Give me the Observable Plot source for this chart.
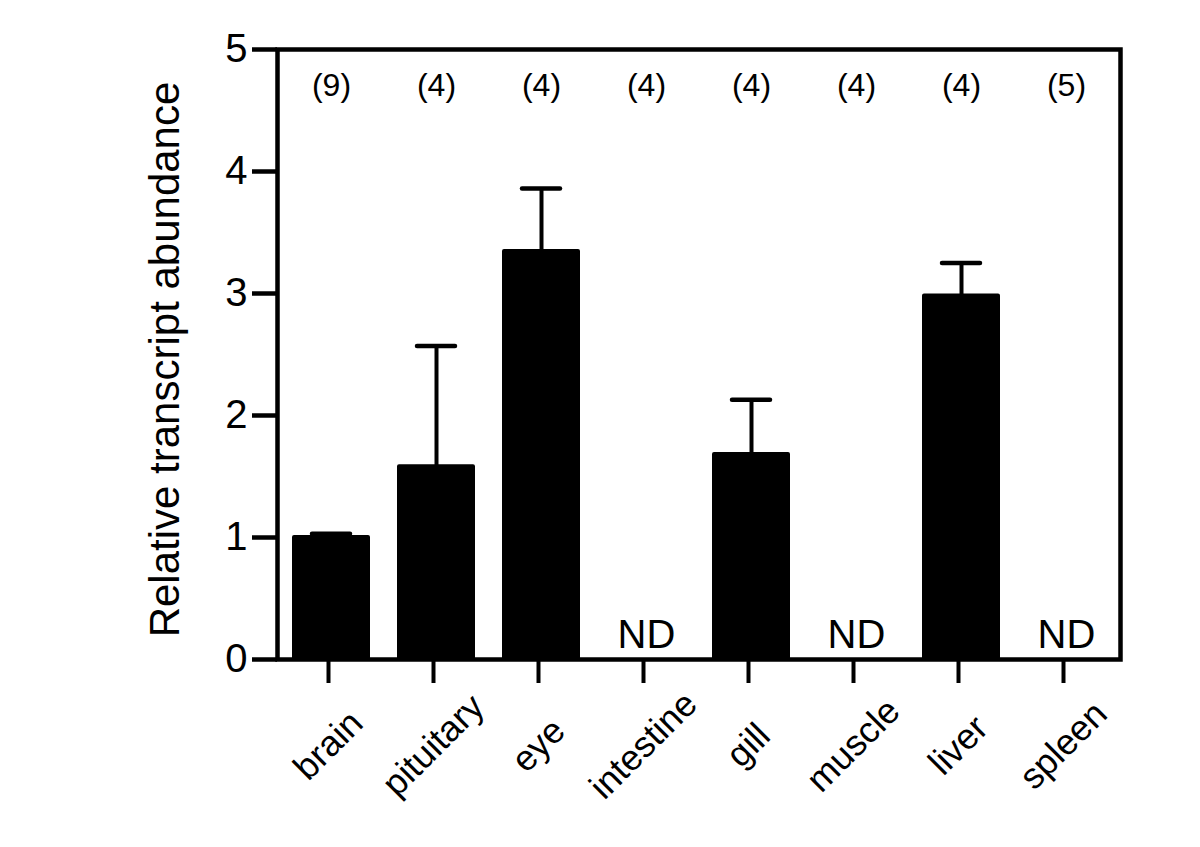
<!DOCTYPE html>
<html>
<head>
<meta charset="utf-8">
<script src="https://cdn.jsdelivr.net/npm/d3@7"></script>
<script src="https://cdn.jsdelivr.net/npm/@observablehq/plot@0.6"></script>
<style>
  html, body { margin: 0; padding: 0; background: white; }
</style>
</head>
<body>
<div id="chart"></div>
<script>
const tissues = ["brain", "pituitary", "eye", "intestine", "gill", "muscle", "liver", "spleen"];
const means   = [1.0, 1.58, 3.345, null, 1.68, null, 2.98, null];
const uppers  = [1.03, 2.57, 3.86, null, 2.13, null, 3.25, null];
const nLabels = ["(9)", "(4)", "(4)", "(4)", "(4)", "(4)", "(4)", "(5)"];
const ndLabel = "ND";
const yTicks  = [0, 1, 2, 3, 4, 5];
const yTitle  = "Relative transcript abundance";

const rows = tissues.map((t, i) => ({tissue: t, mean: means[i], upper: uppers[i], n: nLabels[i]}));
const bars = rows.filter(d => d.mean != null);
const nd = rows.filter(d => d.mean == null);

const chart = Plot.plot({
  width: 1200,
  height: 847,
  marginLeft: 277,
  marginRight: 80,
  marginTop: 49,
  marginBottom: 188,
  style: {fontFamily: "'Liberation Sans', Arial, Helvetica, sans-serif", color: "black", background: "white"},
  x: {domain: tissues, paddingInner: 0.3, paddingOuter: 0.15, label: null},
  y: {domain: [0, 5], label: null},
  marks: [
    Plot.barY(bars, {x: "tissue", y: "mean", fill: "black", stroke: "black", strokeWidth: 4, strokeLinejoin: "round"}),
    Plot.ruleX(bars, {x: "tissue", y1: "mean", y2: "upper", stroke: "black", strokeWidth: 4}),
    Plot.tickY(bars, {x: "tissue", y: "upper", stroke: "black", strokeWidth: 4.5, strokeLinecap: "round", insetLeft: 18, insetRight: 18}),
    Plot.text(rows, {x: "tissue", text: "n", frameAnchor: "top", dy: 36, lineAnchor: "middle", fontSize: 32}),
    Plot.text(nd, {x: "tissue", text: () => ndLabel, frameAnchor: "bottom", dy: -12, lineAnchor: "bottom", fontSize: 40}),
    Plot.frame({stroke: "black", strokeWidth: 4.5}),
    Plot.axisY({ticks: yTicks, tickFormat: d => String(d), tickSize: 25, tickPadding: 5, strokeWidth: 4.5, fontSize: 40, label: null}),
    Plot.axisX({tickSize: 24, strokeWidth: 4, tickRotate: -45, textAnchor: "middle", lineAnchor: "middle", tickPadding: 62, dx: -3, fontSize: 36, label: null}),
    Plot.text([yTitle], {frameAnchor: "left", textAnchor: "middle", rotate: -90, dx: -99, dy: 5, lineAnchor: "bottom", fontSize: 42})
  ]
});
document.getElementById("chart").appendChild(chart);
</script>
</body>
</html>
